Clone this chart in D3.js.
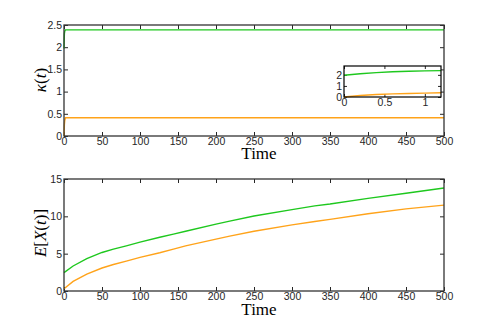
<!DOCTYPE html>
<html>
<head>
<meta charset="utf-8">
<script src="https://cdn.jsdelivr.net/npm/d3@7"></script>
<style>
body { margin: 0; background: #fff; }
.tk text { font-family: "Liberation Sans", Arial, sans-serif; font-size: 10.5px; fill: #262626; }
.tk path { display: none; }
.tk line { stroke: #262626; }
.lbl { font-family: "Liberation Serif", "Times New Roman", serif; font-size: 17px; fill: #000; }
</style>
</head>
<body>
<svg id="fig" width="491" height="327"></svg>
<script>
// kappa(t), long run
var kapT = [0, 0.5, 1, 2, 500];
var kapGreen = [1.97, 2.3, 2.36, 2.39, 2.39];
var kapOrange = [0, 0.25, 0.35, 0.41, 0.41];

// inset: first 1.2 time units
var insT = [0, 0.2, 0.4, 0.6, 0.8, 1.0, 1.2];
var insGreen = [1.97, 2.1, 2.2, 2.28, 2.33, 2.36, 2.38];
var insOrange = [0, 0.13, 0.22, 0.28, 0.32, 0.35, 0.38];

// E[X(t)]
var exT = [0, 12, 30, 50, 65, 82, 100, 126, 144, 160, 200, 218, 250, 300, 330, 350, 400, 450, 500];
var exGreen = [2.46, 3.35, 4.35, 5.16, 5.6, 6.05, 6.55, 7.2, 7.62, 8.0, 8.95, 9.35, 10.05, 10.9, 11.4, 11.65, 12.4, 13.1, 13.8];
var exOrange = [0.3, 1.28, 2.27, 3.08, 3.55, 4.0, 4.5, 5.12, 5.6, 6.05, 6.95, 7.35, 8.0, 8.85, 9.3, 9.6, 10.35, 11.0, 11.5];

var xTicks = [0, 50, 100, 150, 200, 250, 300, 350, 400, 450, 500];
var kapTicks = [0, 0.5, 1, 1.5, 2, 2.5];
var exTicks = [0, 5, 10, 15];

var green = "#1ec81e", orange = "#ffa31a";
var svg = d3.select("#fig");

function panel(box, xdom, ydom, xt, yt, fmtY, fs) {
    var x = d3.scaleLinear().domain(xdom).range([box.l, box.r]);
    var y = d3.scaleLinear().domain(ydom).range([box.b, box.t]);
    var g = svg.append("g");
    g.append("rect").attr("x", box.l).attr("y", box.t)
        .attr("width", box.r - box.l).attr("height", box.b - box.t)
        .attr("fill", "#fff");
    var tl = box.tick || 4;
    g.append("g").attr("class", "tk").attr("transform", "translate(0," + box.b + ")")
        .call(d3.axisBottom(x).tickValues(xt).tickSizeInner(-tl).tickSizeOuter(0).tickPadding(2).tickFormat(d3.format("")))
        .selectAll("text").style("font-size", fs);
    g.append("g").attr("class", "tk").attr("transform", "translate(0," + box.t + ")")
        .call(d3.axisTop(x).tickValues(xt).tickSizeInner(-tl).tickSizeOuter(0).tickFormat(""));
    g.append("g").attr("class", "tk").attr("transform", "translate(" + box.l + ",0)")
        .call(d3.axisLeft(y).tickValues(yt).tickSizeInner(-tl).tickSizeOuter(0).tickPadding(2).tickFormat(fmtY))
        .selectAll("text").style("font-size", fs);
    g.append("g").attr("class", "tk").attr("transform", "translate(" + box.r + ",0)")
        .call(d3.axisRight(y).tickValues(yt).tickSizeInner(-tl).tickSizeOuter(0).tickFormat(""));
    return {g: g, x: x, y: y, box: box};
}

function drawLine(p, xs, ys, col) {
    var line = d3.line().x(function(d, i) { return p.x(xs[i]); }).y(function(d) { return p.y(d); });
    p.g.append("path").datum(ys).attr("d", line)
        .attr("fill", "none").attr("stroke", col).attr("stroke-width", 1.4);
}

function frame(p, col, w) {
    var b = p.box;
    p.g.append("rect").attr("x", b.l).attr("y", b.t)
        .attr("width", b.r - b.l).attr("height", b.b - b.t)
        .attr("fill", "none").attr("stroke", col).attr("stroke-width", w);
}

// top panel
var p1 = panel({l: 64, r: 444, t: 25, b: 136}, [0, 500], [0, 2.5], xTicks, kapTicks, d3.format(""), "10.5px");
drawLine(p1, kapT, kapGreen, green);
drawLine(p1, kapT, kapOrange, orange);
frame(p1, "#333", 1.3);

// inset
var p3 = panel({l: 344, r: 441, t: 66, b: 97, tick: 3}, [0, 1.2], [0, 2.8], [0, 0.5, 1], [0, 1, 2], d3.format(""), "10.5px");
drawLine(p3, insT, insGreen, green);
drawLine(p3, insT, insOrange, orange);
frame(p3, "#000", 1.2);

// bottom panel
var p2 = panel({l: 64, r: 444, t: 179, b: 291}, [0, 500], [0, 15], xTicks, exTicks, d3.format(""), "10.5px");
drawLine(p2, exT, exGreen, green);
drawLine(p2, exT, exOrange, orange);
frame(p2, "#333", 1.3);

// labels
svg.append("text").attr("class", "lbl").attr("x", 259).attr("y", 159)
    .attr("text-anchor", "middle").text("Time");
svg.append("text").attr("class", "lbl").attr("x", 259).attr("y", 315)
    .attr("text-anchor", "middle").text("Time");

var k = svg.append("text").attr("class", "lbl").attr("text-anchor", "middle")
    .attr("transform", "translate(46,80) rotate(-90)");
k.append("tspan").style("font-style", "italic").text("κ");
k.append("tspan").text("(");
k.append("tspan").style("font-style", "italic").text("t");
k.append("tspan").text(")");

var e = svg.append("text").attr("class", "lbl").attr("text-anchor", "middle")
    .attr("transform", "translate(46,233) rotate(-90)");
e.append("tspan").style("font-style", "italic").text("E");
e.append("tspan").text("[");
e.append("tspan").style("font-style", "italic").text("X");
e.append("tspan").text("(");
e.append("tspan").style("font-style", "italic").text("t");
e.append("tspan").text(")]");
</script>
</body>
</html>
